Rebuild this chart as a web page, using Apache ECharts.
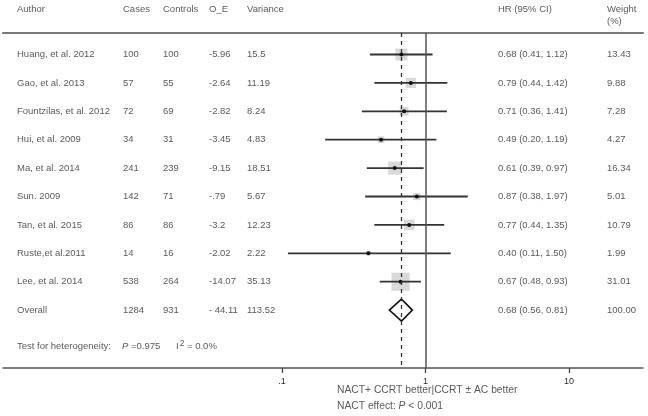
<!DOCTYPE html>
<html>
<head>
<meta charset="utf-8">
<script src="https://cdn.jsdelivr.net/npm/echarts@6/dist/echarts.min.js"></script>
<style>
  html, body { margin: 0; padding: 0; background: #fff; }
  #chart { width: 648px; height: 416px; }
</style>
</head>
<body>
<div id="chart"></div>
<script>
// Study data (last entry is the pooled "Overall" row)
const authors = ["Huang, et al. 2012", "Gao, et al. 2013", "Fountzilas, et al. 2012", "Hui, et al. 2009",
  "Ma, et al. 2014", "Sun. 2009", "Tan, et al. 2015", "Ruste,et al.2011", "Lee, et al. 2014", "Overall"];
const cases = ["100", "57", "72", "34", "241", "142", "86", "14", "538", "1284"];
const controls = ["100", "55", "69", "31", "239", "71", "86", "16", "264", "931"];
const oe = ["-5.96", "-2.64", "-2.82", "-3.45", "-9.15", "-.79", "-3.2", "-2.02", "-14.07", "- 44.11"];
const variance = ["15.5", "11.19", "8.24", "4.83", "18.51", "5.67", "12.23", "2.22", "35.13", "113.52"];
const hr = [0.68, 0.79, 0.71, 0.49, 0.61, 0.87, 0.77, 0.40, 0.67, 0.68];
const ciLow = [0.41, 0.44, 0.36, 0.20, 0.39, 0.38, 0.44, 0.11, 0.48, 0.56];
const ciHigh = [1.12, 1.42, 1.41, 1.19, 0.97, 1.97, 1.35, 1.50, 0.93, 0.81];
const weight = ["13.43", "9.88", "7.28", "4.27", "16.34", "5.01", "10.79", "1.99", "31.01", "100.00"];
const xTicks = [0.1, 1, 10];
const xTickLabels = [".1", "1", "10"];

/*
  Layout helpers: rows are laid out by index, converted from pixels only for layout
*/
const ROW0 = 54.5;
const ROWH = 28.4;
const rowOf = (px) => (px - ROW0) / ROWH;
const overallIdx = authors.length - 1;

const TEXT = "#2e2e2e";
const FONT = "Liberation Sans, Arial, sans-serif";
const FS = 9.5;

function textSeries(x, items, fs) {
  // items: [[rowIndex, text], ...]
  const size = fs || FS;
  return {
    type: "scatter",
    xAxisIndex: 1,
    yAxisIndex: 1,
    symbolSize: 0,
    silent: true,
    clip: false,
    data: items.map((it) => [x, it[0], it[1]]),
    label: {
      show: true,
      position: "right",
      distance: 0,
      color: TEXT,
      fontFamily: FONT,
      fontSize: size,
      formatter: (p) => p.data[2],
      rich: {
        n: { color: TEXT, fontFamily: FONT, fontSize: size },
        i: { color: TEXT, fontFamily: FONT, fontSize: size, fontStyle: "italic" },
        s: { color: TEXT, fontFamily: FONT, fontSize: 8.5, padding: [0, 0, 5, 1] },
      },
    },
  };
}

const rows = authors.map((a, i) => i);
const hrText = hr.map((v, i) => `${v.toFixed(2)} (${ciLow[i].toFixed(2)}, ${ciHigh[i].toFixed(2)})`);
const headY = rowOf(9.5);

const forestData = hr.map((v, i) => [ciLow[i], ciHigh[i], v, i, parseFloat(weight[i])]);

const option = {
  animation: false,
  backgroundColor: "#fff",
  grid: [
    { left: 282, right: 79, top: 33, bottom: 48 }, // forest plot area
    { left: 0, right: 0, top: 0, bottom: 0 }, // text table
    { left: 3, right: 5, top: 33, bottom: 48 }, // full-width rules
  ],
  xAxis: [
    {
      gridIndex: 0,
      type: "log",
      logBase: 10,
      min: 0.1,
      max: 10,
      position: "bottom",
      axisLine: { show: false, onZero: false },
      splitLine: { show: false },
      axisTick: { show: true, length: 5, lineStyle: { color: "#444", width: 1.3 } },
      axisLabel: {
        margin: 9,
        color: TEXT,
        fontFamily: FONT,
        fontSize: 9,
        formatter: (v) => {
          const k = xTicks.findIndex((t) => Math.abs(t - v) < 1e-9);
          return k >= 0 ? xTickLabels[k] : "";
        },
      },
    },
    { gridIndex: 1, type: "value", min: 0, max: 648, show: false },
    {
      gridIndex: 2, type: "value", min: 0, max: 1, position: "bottom",
      axisLine: { show: true, onZero: false, lineStyle: { color: "#555", width: 1.5 } },
      axisTick: { show: false }, axisLabel: { show: false }, splitLine: { show: false },
    },
    {
      gridIndex: 2, type: "value", min: 0, max: 1, position: "top",
      axisLine: { show: true, onZero: false, lineStyle: { color: "#777", width: 2 } },
      axisTick: { show: false }, axisLabel: { show: false }, splitLine: { show: false },
    },
  ],
  yAxis: [
    { gridIndex: 0, type: "value", inverse: true, min: rowOf(33), max: rowOf(368), show: false },
    { gridIndex: 1, type: "value", inverse: true, min: rowOf(0), max: rowOf(416), show: false },
    { gridIndex: 2, type: "value", min: 0, max: 1, show: false },
  ],
  series: [
    // weight squares
    {
      type: "custom",
      xAxisIndex: 0,
      yAxisIndex: 0,
      z: 1,
      silent: true,
      encode: { x: [0, 1, 2], y: 3 },
      data: forestData.slice(0, overallIdx),
      renderItem: (params, api) => {
        const c = api.coord([api.value(2), api.value(3)]);
        const s = 3.25 * Math.sqrt(api.value(4));
        return {
          type: "rect",
          shape: { x: c[0] - s / 2, y: c[1] - s / 2, width: s, height: s },
          style: { fill: "#d9d9d9" },
        };
      },
    },
    // reference lines
    {
      type: "scatter",
      xAxisIndex: 0,
      yAxisIndex: 0,
      symbolSize: 0,
      z: 2,
      silent: true,
      data: [[hr[overallIdx], overallIdx]],
      markLine: {
        silent: true,
        symbol: "none",
        label: { show: false },
        animation: false,
        data: [
          { xAxis: 1, lineStyle: { type: "solid", color: "#555", width: 1.5 } },
          { xAxis: hr[overallIdx], lineStyle: { type: [4, 4], color: "#333", width: 1.3 } },
        ],
      },
    },
    // CI lines, point estimates and overall diamond
    {
      type: "custom",
      xAxisIndex: 0,
      yAxisIndex: 0,
      z: 3,
      silent: true,
      encode: { x: [0, 1, 2], y: 3 },
      data: forestData,
      renderItem: (params, api) => {
        const row = api.value(3);
        const p0 = api.coord([api.value(0), row]);
        const p1 = api.coord([api.value(1), row]);
        const pc = api.coord([api.value(2), row]);
        if (row === overallIdx) {
          const h = 11;
          return {
            type: "polygon",
            shape: { points: [p0, [pc[0], pc[1] - h], p1, [pc[0], pc[1] + h]] },
            style: { fill: "none", stroke: "#111", lineWidth: 1.6 },
          };
        }
        return {
          type: "group",
          children: [
            {
              type: "line",
              shape: { x1: p0[0], y1: p0[1], x2: p1[0], y2: p1[1] },
              style: { stroke: "#333", lineWidth: 1.8 },
            },
            {
              type: "circle",
              shape: { cx: pc[0], cy: pc[1], r: 2 },
              style: { fill: "#111" },
            },
          ],
        };
      },
    },
    // table text
    textSeries(17, [[headY, "Author"]].concat(rows.map((i) => [i, authors[i]]))),
    textSeries(123, [[headY, "Cases"]].concat(rows.map((i) => [i, cases[i]]))),
    textSeries(163, [[headY, "Controls"]].concat(rows.map((i) => [i, controls[i]]))),
    textSeries(209, [[headY, "O_E"]].concat(rows.map((i) => [i, oe[i]]))),
    textSeries(247, [[headY, "Variance"]].concat(rows.map((i) => [i, variance[i]]))),
    textSeries(498, [[headY, "HR (95% CI)"]].concat(rows.map((i) => [i, hrText[i]]))),
    textSeries(607, [[headY, "Weight"], [rowOf(21.5), "(%)"]].concat(rows.map((i) => [i, weight[i]]))),
    textSeries(17, [[rowOf(346), "Test for heterogeneity:"]]),
    textSeries(122, [[rowOf(346), "{i|P}{n| =0.975}"]]),
    textSeries(176, [[rowOf(346), "{n|I}{s|2}{n| = 0.0%}"]]),
    textSeries(337, [
      [rowOf(390), "NACT+ CCRT better|CCRT ± AC better"],
      [rowOf(406.5), "{n|NACT effect: }{i|P}{n| < 0.001}"],
    ], 10.3),
  ],
};

const chart = echarts.init(document.getElementById("chart"), null, { renderer: "canvas" });
chart.setOption(option);
</script>
</body>
</html>
